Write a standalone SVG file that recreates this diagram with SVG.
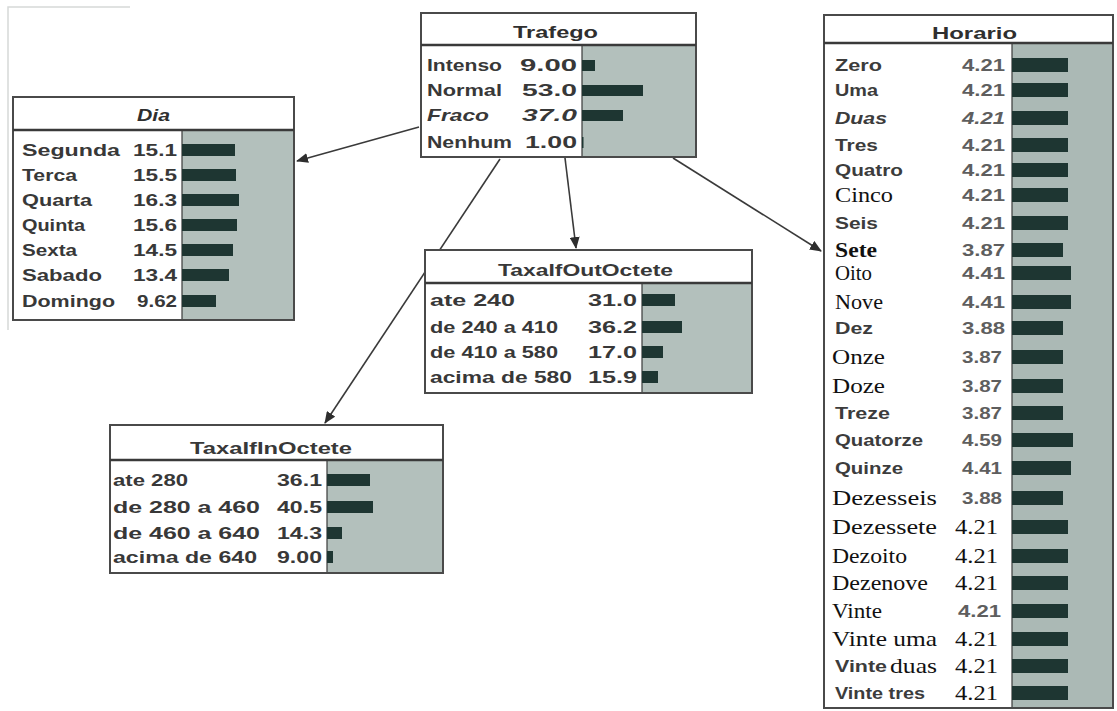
<svg xmlns="http://www.w3.org/2000/svg" width="1117" height="711" viewBox="0 0 1117 711">
<defs>
<style>
.box{fill:#ffffff;stroke:#4a4a4a;stroke-width:2}
.gray{fill:#b3c0bc}
.grayh{fill:#abb9b5}
.div{stroke:#3a3a3a;stroke-width:2.5}
.split{stroke:#3a3a3a;stroke-width:1.2}
.bar{fill:#1e3632}
.t{font-family:"Liberation Sans",Arial,sans-serif;font-weight:bold;font-size:17px;fill:#383838}
.ttl{font-family:"Liberation Sans",Arial,sans-serif;font-weight:bold;font-size:17px;fill:#2f2f2f}
.hs{font-family:"Liberation Sans",Arial,sans-serif;font-weight:bold;font-size:17px;fill:#3c3c3c}
.hv{font-family:"Liberation Sans",Arial,sans-serif;font-weight:bold;font-size:17px;fill:#5e5e5e}
.se{font-family:"Liberation Serif","Times New Roman",serif;font-size:21px;fill:#111111}
.it{font-style:italic}
.conn{stroke:#3a3a3a;stroke-width:1.6;fill:none}
</style>
<marker id="ah" markerWidth="12" markerHeight="10" refX="11" refY="5" orient="auto" markerUnits="userSpaceOnUse">
<path d="M0,0 L12,5 L0,10 z" fill="#2e2e2e"/>
</marker>
</defs>
<rect x="0" y="0" width="1117" height="711" fill="#ffffff"/>
<path d="M8,330 L8,7 L130,7" stroke="#d6d9d8" stroke-width="1.5" fill="none"/>

<g id="connectors">
<line class="conn" x1="419" y1="127" x2="297" y2="161" marker-end="url(#ah)"/>
<line class="conn" x1="565" y1="158" x2="576" y2="248" marker-end="url(#ah)"/>
<line class="conn" x1="500" y1="159" x2="325" y2="423" marker-end="url(#ah)"/>
<line class="conn" x1="673" y1="158" x2="821" y2="251" marker-end="url(#ah)"/>
</g>

<g id="node-trafego">
<rect class="box" x="421" y="13" width="275" height="144"/>
<rect class="gray" x="582" y="46" width="113" height="110"/>
<line class="div" x1="421" y1="45" x2="696" y2="45"/>
<line class="split" x1="582" y1="46" x2="582" y2="156"/>
<text class="ttl" x="513" y="38" textLength="85" lengthAdjust="spacingAndGlyphs">Trafego</text>
<text class="t" x="427" y="71" textLength="75" lengthAdjust="spacingAndGlyphs">Intenso</text>
<text class="t" x="520" y="71" textLength="57" lengthAdjust="spacingAndGlyphs">9.00</text>
<rect class="bar" x="582" y="60" width="13" height="11"/>
<text class="t" x="427" y="96" textLength="75" lengthAdjust="spacingAndGlyphs">Normal</text>
<text class="t" x="522" y="96" textLength="55" lengthAdjust="spacingAndGlyphs">53.0</text>
<rect class="bar" x="582" y="85" width="61" height="11"/>
<text class="t it" x="427" y="121" textLength="62" lengthAdjust="spacingAndGlyphs">Fraco</text>
<text class="t it" x="522" y="121" textLength="55" lengthAdjust="spacingAndGlyphs">37.0</text>
<rect class="bar" x="582" y="110" width="41" height="11"/>
<text class="t" x="427" y="148" textLength="85" lengthAdjust="spacingAndGlyphs">Nenhum</text>
<text class="t" x="525" y="148" textLength="52" lengthAdjust="spacingAndGlyphs">1.00</text>
<rect class="bar" x="582" y="137" width="1.5" height="11"/>
</g>

<g id="node-dia">
<rect class="box" x="13" y="97" width="281" height="223"/>
<rect class="gray" x="182" y="131" width="111" height="188"/>
<line class="div" x1="13" y1="130" x2="294" y2="130"/>
<line class="split" x1="182" y1="131" x2="182" y2="319"/>
<text class="ttl it" x="137" y="121" textLength="33" lengthAdjust="spacingAndGlyphs">Dia</text>
<text class="t" x="22" y="156" textLength="98" lengthAdjust="spacingAndGlyphs" fill="#2f4a48">Segunda</text>
<text class="t" x="133" y="156" textLength="44" lengthAdjust="spacingAndGlyphs">15.1</text>
<rect class="bar" x="182" y="144" width="53" height="12"/>
<text class="t" x="22" y="181" textLength="55" lengthAdjust="spacingAndGlyphs">Terca</text>
<text class="t" x="133" y="181" textLength="44" lengthAdjust="spacingAndGlyphs">15.5</text>
<rect class="bar" x="182" y="169" width="54" height="12"/>
<text class="t" x="22" y="206" textLength="70" lengthAdjust="spacingAndGlyphs">Quarta</text>
<text class="t" x="133" y="206" textLength="44" lengthAdjust="spacingAndGlyphs">16.3</text>
<rect class="bar" x="182" y="194" width="57" height="12"/>
<text class="t" x="22" y="231" textLength="63" lengthAdjust="spacingAndGlyphs">Quinta</text>
<text class="t" x="133" y="231" textLength="44" lengthAdjust="spacingAndGlyphs">15.6</text>
<rect class="bar" x="182" y="219" width="55" height="12"/>
<text class="t" x="22" y="256" textLength="55" lengthAdjust="spacingAndGlyphs">Sexta</text>
<text class="t" x="133" y="256" textLength="44" lengthAdjust="spacingAndGlyphs">14.5</text>
<rect class="bar" x="182" y="244" width="51" height="12"/>
<text class="t" x="22" y="281" textLength="80" lengthAdjust="spacingAndGlyphs">Sabado</text>
<text class="t" x="133" y="281" textLength="44" lengthAdjust="spacingAndGlyphs">13.4</text>
<rect class="bar" x="182" y="269" width="47" height="12"/>
<text class="t" x="22" y="307" textLength="93" lengthAdjust="spacingAndGlyphs">Domingo</text>
<text class="t" x="137" y="307" textLength="40" lengthAdjust="spacingAndGlyphs">9.62</text>
<rect class="bar" x="182" y="295" width="34" height="12"/>
</g>

<g id="node-taxaifoutoctete">
<rect class="box" x="425" y="250" width="327" height="143"/>
<rect class="gray" x="642" y="284" width="109" height="108"/>
<line class="div" x1="425" y1="283" x2="752" y2="283"/>
<line class="split" x1="642" y1="284" x2="642" y2="392"/>
<text class="t" x="498" y="276" textLength="175" lengthAdjust="spacingAndGlyphs">TaxaIfOutOctete</text>
<text class="t" x="430" y="306" textLength="85" lengthAdjust="spacingAndGlyphs">ate 240</text>
<text class="t" x="588" y="306" textLength="49" lengthAdjust="spacingAndGlyphs">31.0</text>
<rect class="bar" x="642" y="294" width="33" height="12"/>
<text class="t" x="430" y="333" textLength="128" lengthAdjust="spacingAndGlyphs">de 240 a 410</text>
<text class="t" x="588" y="333" textLength="49" lengthAdjust="spacingAndGlyphs">36.2</text>
<rect class="bar" x="642" y="321" width="40" height="12"/>
<text class="t" x="430" y="358" textLength="128" lengthAdjust="spacingAndGlyphs">de 410 a 580</text>
<text class="t" x="588" y="358" textLength="49" lengthAdjust="spacingAndGlyphs">17.0</text>
<rect class="bar" x="642" y="346" width="21" height="12"/>
<text class="t" x="430" y="383" textLength="142" lengthAdjust="spacingAndGlyphs">acima de 580</text>
<text class="t" x="588" y="383" textLength="49" lengthAdjust="spacingAndGlyphs">15.9</text>
<rect class="bar" x="642" y="371" width="16" height="12"/>
</g>

<g id="node-taxaifinoctete">
<rect class="box" x="110" y="425" width="333" height="148"/>
<rect class="gray" x="327" y="461" width="115" height="111"/>
<line class="div" x1="110" y1="460" x2="443" y2="460"/>
<line class="split" x1="327" y1="461" x2="327" y2="572"/>
<text class="t" x="190" y="454" textLength="162" lengthAdjust="spacingAndGlyphs">TaxaIfInOctete</text>
<text class="t" x="113" y="486" textLength="75" lengthAdjust="spacingAndGlyphs">ate 280</text>
<text class="t" x="277" y="486" textLength="45" lengthAdjust="spacingAndGlyphs">36.1</text>
<rect class="bar" x="327" y="474" width="43" height="12"/>
<text class="t" x="113" y="513" textLength="147" lengthAdjust="spacingAndGlyphs">de  280 a 460</text>
<text class="t" x="277" y="513" textLength="45" lengthAdjust="spacingAndGlyphs">40.5</text>
<rect class="bar" x="327" y="501" width="46" height="12"/>
<text class="t" x="113" y="539" textLength="147" lengthAdjust="spacingAndGlyphs">de  460 a 640</text>
<text class="t" x="277" y="539" textLength="45" lengthAdjust="spacingAndGlyphs">14.3</text>
<rect class="bar" x="327" y="527" width="15" height="12"/>
<text class="t" x="113" y="563" textLength="144" lengthAdjust="spacingAndGlyphs">acima de 640</text>
<text class="t" x="277" y="563" textLength="45" lengthAdjust="spacingAndGlyphs">9.00</text>
<rect class="bar" x="327" y="551" width="6" height="12"/>
</g>

<g id="node-horario">
<rect class="box" x="824" y="15" width="289" height="693"/>
<rect class="grayh" x="1012" y="44" width="100" height="663"/>
<line class="div" x1="824" y1="43" x2="1113" y2="43"/>
<line class="split" x1="1012" y1="44" x2="1012" y2="707"/>
<text class="ttl" x="932" y="39" textLength="85" lengthAdjust="spacingAndGlyphs">Horario</text>

<text class="hs" x="835" y="71" textLength="47" lengthAdjust="spacingAndGlyphs">Zero</text>
<text class="hv" x="962" y="71" textLength="43" lengthAdjust="spacingAndGlyphs">4.21</text>
<rect class="bar" x="1012" y="58" width="56" height="14"/>

<text class="hs" x="835" y="96" textLength="43" lengthAdjust="spacingAndGlyphs">Uma</text>
<text class="hv" x="962" y="96" textLength="43" lengthAdjust="spacingAndGlyphs">4.21</text>
<rect class="bar" x="1012" y="83" width="56" height="14"/>

<text class="hs it" x="835" y="124" textLength="52" lengthAdjust="spacingAndGlyphs">Duas</text>
<text class="hv it" x="962" y="124" textLength="43" lengthAdjust="spacingAndGlyphs">4.21</text>
<rect class="bar" x="1012" y="111" width="56" height="14"/>

<text class="hs" x="835" y="151" textLength="43" lengthAdjust="spacingAndGlyphs">Tres</text>
<text class="hv" x="962" y="151" textLength="43" lengthAdjust="spacingAndGlyphs">4.21</text>
<rect class="bar" x="1012" y="138" width="56" height="14"/>

<text class="hs" x="835" y="176" textLength="68" lengthAdjust="spacingAndGlyphs" fill="#45453a">Quatro</text>
<text class="hv" x="962" y="176" textLength="43" lengthAdjust="spacingAndGlyphs">4.21</text>
<rect class="bar" x="1012" y="163" width="56" height="14"/>

<text class="se" x="835" y="202" textLength="58" lengthAdjust="spacingAndGlyphs">Cinco</text>
<text class="hv" x="962" y="201" textLength="43" lengthAdjust="spacingAndGlyphs">4.21</text>
<rect class="bar" x="1012" y="188" width="56" height="14"/>

<text class="hs" x="835" y="229" textLength="43" lengthAdjust="spacingAndGlyphs" fill="#356a66">Seis</text>
<text class="hv" x="962" y="229" textLength="43" lengthAdjust="spacingAndGlyphs">4.21</text>
<rect class="bar" x="1012" y="216" width="56" height="14"/>

<text class="se" x="835" y="257" textLength="42" lengthAdjust="spacingAndGlyphs" font-weight="bold">Sete</text>
<text class="hv" x="962" y="256" textLength="43" lengthAdjust="spacingAndGlyphs">3.87</text>
<rect class="bar" x="1012" y="243" width="51" height="14"/>

<text class="se" x="835" y="280" textLength="37" lengthAdjust="spacingAndGlyphs">Oito</text>
<text class="hv" x="962" y="279" textLength="43" lengthAdjust="spacingAndGlyphs">4.41</text>
<rect class="bar" x="1012" y="266" width="59" height="14"/>

<text class="se" x="835" y="309" textLength="48" lengthAdjust="spacingAndGlyphs">Nove</text>
<text class="hv" x="962" y="308" textLength="43" lengthAdjust="spacingAndGlyphs">4.41</text>
<rect class="bar" x="1012" y="295" width="59" height="14"/>

<text class="hs" x="835" y="334" textLength="38" lengthAdjust="spacingAndGlyphs" fill="#3f5f85">Dez</text>
<text class="hv" x="962" y="334" textLength="43" lengthAdjust="spacingAndGlyphs">3.88</text>
<rect class="bar" x="1012" y="321" width="51" height="14"/>

<text class="se" x="832" y="364" textLength="53" lengthAdjust="spacingAndGlyphs">Onze</text>
<text class="hv" x="962" y="363" textLength="40" lengthAdjust="spacingAndGlyphs">3.87</text>
<rect class="bar" x="1012" y="350" width="51" height="14"/>

<text class="se" x="832" y="393" textLength="53" lengthAdjust="spacingAndGlyphs">Doze</text>
<text class="hv" x="962" y="392" textLength="40" lengthAdjust="spacingAndGlyphs">3.87</text>
<rect class="bar" x="1012" y="379" width="51" height="14"/>

<text class="hs" x="835" y="419" textLength="55" lengthAdjust="spacingAndGlyphs" fill="#3f6a48">Treze</text>
<text class="hv" x="962" y="419" textLength="40" lengthAdjust="spacingAndGlyphs">3.87</text>
<rect class="bar" x="1012" y="406" width="51" height="14"/>

<text class="hs" x="835" y="446" textLength="88" lengthAdjust="spacingAndGlyphs" fill="#356a5c">Quatorze</text>
<text class="hv" x="962" y="446" textLength="40" lengthAdjust="spacingAndGlyphs">4.59</text>
<rect class="bar" x="1012" y="433" width="61" height="14"/>

<text class="hs" x="835" y="474" textLength="68" lengthAdjust="spacingAndGlyphs" fill="#356a5c">Quinze</text>
<text class="hv" x="962" y="474" textLength="40" lengthAdjust="spacingAndGlyphs">4.41</text>
<rect class="bar" x="1012" y="461" width="59" height="14"/>

<text class="se" x="832" y="505" textLength="105" lengthAdjust="spacingAndGlyphs">Dezesseis</text>
<text class="hv" x="962" y="504" textLength="40" lengthAdjust="spacingAndGlyphs" fill="#4d5a78">3.88</text>
<rect class="bar" x="1012" y="491" width="51" height="14"/>

<text class="se" x="832" y="534" textLength="105" lengthAdjust="spacingAndGlyphs">Dezessete</text>
<text class="se" x="955" y="534" textLength="43" lengthAdjust="spacingAndGlyphs">4.21</text>
<rect class="bar" x="1012" y="520" width="56" height="14"/>

<text class="se" x="832" y="563" textLength="75" lengthAdjust="spacingAndGlyphs">Dezoito</text>
<text class="se" x="955" y="563" textLength="43" lengthAdjust="spacingAndGlyphs">4.21</text>
<rect class="bar" x="1012" y="549" width="56" height="14"/>

<text class="se" x="832" y="590" textLength="96" lengthAdjust="spacingAndGlyphs">Dezenove</text>
<text class="se" x="955" y="590" textLength="43" lengthAdjust="spacingAndGlyphs">4.21</text>
<rect class="bar" x="1012" y="576" width="56" height="14"/>

<text class="se" x="832" y="618" textLength="50" lengthAdjust="spacingAndGlyphs">Vinte</text>
<text class="hv" x="958" y="617" textLength="43" lengthAdjust="spacingAndGlyphs" fill="#4d5a78">4.21</text>
<rect class="bar" x="1012" y="604" width="56" height="14"/>

<text class="se" x="832" y="646" textLength="105" lengthAdjust="spacingAndGlyphs">Vinte uma</text>
<text class="se" x="955" y="646" textLength="43" lengthAdjust="spacingAndGlyphs">4.21</text>
<rect class="bar" x="1012" y="632" width="56" height="14"/>

<text class="hs" x="835" y="672" textLength="52" lengthAdjust="spacingAndGlyphs" fill="#4f7078">Vinte</text>
<text class="se" x="890" y="673" textLength="47" lengthAdjust="spacingAndGlyphs">duas</text>
<text class="se" x="955" y="673" textLength="43" lengthAdjust="spacingAndGlyphs">4.21</text>
<rect class="bar" x="1012" y="659" width="56" height="14"/>

<text class="hs" x="835" y="699" textLength="90" lengthAdjust="spacingAndGlyphs" fill="#4f7078">Vinte tres</text>
<text class="se" x="955" y="700" textLength="43" lengthAdjust="spacingAndGlyphs">4.21</text>
<rect class="bar" x="1012" y="686" width="56" height="14"/>
</g>
</svg>
